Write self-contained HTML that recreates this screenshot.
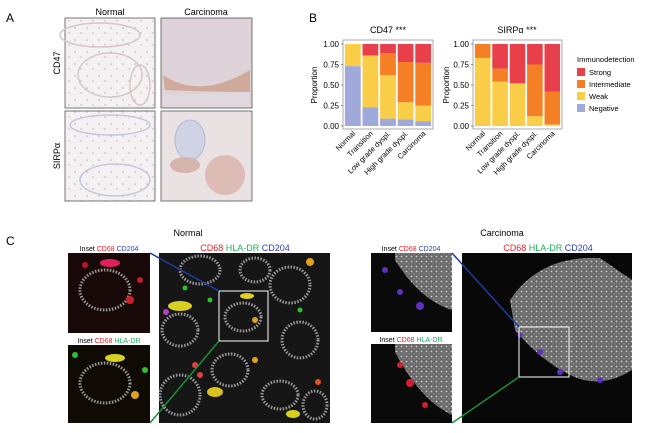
<!DOCTYPE html>
<html><head><meta charset="utf-8"><style>
body{margin:0;background:#fff;}
svg{display:block;font-family:"Liberation Sans",sans-serif;}
</style></head><body>
<svg id="s" width="650" height="433" viewBox="0 0 650 433" xmlns="http://www.w3.org/2000/svg">
<defs>
<pattern id="ihc" width="12" height="12" patternUnits="userSpaceOnUse">
<rect width="12" height="12" fill="#f4f1f2"/><circle cx="3" cy="4" r="0.8" fill="#b9aab8"/><circle cx="9" cy="9" r="0.7" fill="#c9a9a0"/></pattern>
<pattern id="dots2" width="5" height="5" patternUnits="userSpaceOnUse">
<rect width="5" height="5" fill="#6a6a6a"/><circle cx="1.5" cy="1.5" r="0.9" fill="#cfcfcf"/><circle cx="4" cy="3.8" r="0.7" fill="#999"/></pattern>
</defs>
<text x="6" y="22" font-size="12">A</text>
<text x="309" y="22" font-size="12">B</text>
<text x="6" y="245" font-size="12">C</text>
<text x="110" y="15" font-size="9" text-anchor="middle">Normal</text>
<text x="206" y="15" font-size="9" text-anchor="middle">Carcinoma</text>
<text transform="translate(60,63) rotate(-90)" font-size="9" text-anchor="middle">CD47</text>
<text transform="translate(60,156) rotate(-90)" font-size="9" text-anchor="middle">SIRPα</text>
<g stroke="#555" stroke-width="0.8">
<rect x="65" y="18" width="90" height="90" fill="url(#ihc)"/>
<rect x="161" y="18" width="91" height="90" fill="#ddd3d8"/>
<rect x="65" y="111" width="90" height="90" fill="url(#ihc)"/>
<rect x="161" y="111" width="91" height="90" fill="#e9e1e2"/>
</g>
<g fill="none" stroke="#d6c6c8" stroke-width="1.5">
<ellipse cx="110" cy="75" rx="32" ry="22"/><ellipse cx="100" cy="35" rx="40" ry="12"/><ellipse cx="140" cy="85" rx="10" ry="20"/>
<ellipse cx="110" cy="125" rx="40" ry="10" stroke="#c4c6dc"/><ellipse cx="115" cy="180" rx="35" ry="16" stroke="#c4c6dc"/>
</g>
<path d="M163 75 Q200 100 250 70 L250 92 Q210 92 165 90 Z" fill="#cfaa9a"/>
<path d="M163 95 L250 92 L250 107 L163 107Z" fill="#e0d8dc"/>
<ellipse cx="190" cy="140" rx="15" ry="20" fill="#d0d3e4" stroke="#b4b8d6"/>
<ellipse cx="225" cy="175" rx="20" ry="20" fill="#dcbcb4"/>
<ellipse cx="185" cy="165" rx="15" ry="8" fill="#d4b4ac"/>
<g id="bars"></g>
<text x="388" y="33" font-size="9" text-anchor="middle">CD47 ***</text>
<text x="517" y="33" font-size="9" text-anchor="middle">SIRPα ***</text>
<text transform="translate(317,85) rotate(-90)" font-size="8" text-anchor="middle">Proportion</text>
<text transform="translate(449,85) rotate(-90)" font-size="8" text-anchor="middle">Proportion</text>
<text x="577" y="62" font-size="7.5">Immunodetection</text>
<rect x="577" y="68" width="8" height="8" fill="#e8404a"/><text x="589" y="75" font-size="7.5">Strong</text>
<rect x="577" y="80" width="8" height="8" fill="#f47f24"/><text x="589" y="87" font-size="7.5">Intermediate</text>
<rect x="577" y="92" width="8" height="8" fill="#f9cd47"/><text x="589" y="99" font-size="7.5">Weak</text>
<rect x="577" y="104" width="8" height="8" fill="#9fa9da"/><text x="589" y="111" font-size="7.5">Negative</text>

<text x="188" y="236" font-size="9" text-anchor="middle">Normal</text>
<text x="502" y="236" font-size="9" text-anchor="middle">Carcinoma</text>
<text x="245" y="251" font-size="9" text-anchor="middle"><tspan fill="#e8202a">CD68</tspan>  <tspan fill="#1fae5a">HLA-DR</tspan>  <tspan fill="#2b3fa5">CD204</tspan></text>
<text x="548" y="251" font-size="9" text-anchor="middle"><tspan fill="#e8202a">CD68</tspan>  <tspan fill="#1fae5a">HLA-DR</tspan>  <tspan fill="#2b3fa5">CD204</tspan></text>
<text x="109" y="251" font-size="7" text-anchor="middle">Inset <tspan fill="#e8202a">CD68</tspan> <tspan fill="#2b3fa5">CD204</tspan></text>
<text x="109" y="343" font-size="7" text-anchor="middle">Inset <tspan fill="#e8202a">CD68</tspan> <tspan fill="#1fae5a">HLA-DR</tspan></text>
<text x="411" y="251" font-size="7" text-anchor="middle">Inset <tspan fill="#e8202a">CD68</tspan> <tspan fill="#2b3fa5">CD204</tspan></text>
<text x="411" y="342" font-size="7" text-anchor="middle">Inset <tspan fill="#e8202a">CD68</tspan> <tspan fill="#1fae5a">HLA-DR</tspan></text>

<rect x="68" y="253" width="82" height="80" fill="#180808"/>
<rect x="68" y="345" width="82" height="78" fill="#100a04"/>
<rect x="159" y="253" width="171" height="170" fill="#161616"/>
<g fill="none" stroke="#9a9a9a" stroke-width="3" stroke-dasharray="1.5 1.5">
<ellipse cx="105" cy="290" rx="25" ry="20"/><ellipse cx="105" cy="383" rx="25" ry="20"/>
<ellipse cx="200" cy="270" rx="20" ry="14"/><ellipse cx="243" cy="317" rx="18" ry="14"/><ellipse cx="290" cy="285" rx="20" ry="18"/>
<ellipse cx="180" cy="330" rx="18" ry="16"/><ellipse cx="300" cy="340" rx="18" ry="18"/><ellipse cx="230" cy="370" rx="18" ry="16"/>
<ellipse cx="180" cy="395" rx="20" ry="20"/><ellipse cx="280" cy="395" rx="18" ry="14"/><ellipse cx="255" cy="270" rx="15" ry="12"/><ellipse cx="315" cy="405" rx="12" ry="14"/>
</g>
<g>
<ellipse cx="110" cy="263" rx="10" ry="4" fill="#e0205a"/><circle cx="130" cy="300" r="4" fill="#d0202a"/><circle cx="140" cy="280" r="3" fill="#c0202a"/><circle cx="85" cy="265" r="3" fill="#c01030"/>
<ellipse cx="115" cy="358" rx="10" ry="4" fill="#d8d020"/><circle cx="135" cy="395" r="4" fill="#e0a020"/><circle cx="75" cy="355" r="3" fill="#30c030"/><circle cx="145" cy="370" r="3" fill="#30c030"/>
<ellipse cx="180" cy="306" rx="12" ry="5" fill="#d8d020"/><circle cx="166" cy="312" r="3" fill="#b040c0"/><ellipse cx="247" cy="296" rx="7" ry="3" fill="#e0d020"/><circle cx="255" cy="320" r="3" fill="#e0a020"/>
<ellipse cx="215" cy="392" rx="8" ry="5" fill="#d8c020"/><circle cx="195" cy="365" r="3" fill="#e04040"/><circle cx="200" cy="375" r="3" fill="#e04040"/><circle cx="310" cy="262" r="4" fill="#e0a020"/>
<circle cx="255" cy="360" r="3" fill="#e0a020"/><ellipse cx="293" cy="414" rx="7" ry="4" fill="#d8d020"/><circle cx="318" cy="382" r="3" fill="#e05020"/><circle cx="185" cy="288" r="2.5" fill="#30c030"/><circle cx="210" cy="300" r="2.5" fill="#30c030"/><circle cx="300" cy="310" r="2.5" fill="#30c030"/>
</g>
<rect x="219" y="291" width="49" height="50" fill="none" stroke="#fff" stroke-width="1"/>
<line x1="150" y1="253" x2="219" y2="291" stroke="#1f3aa0" stroke-width="1.5"/>
<line x1="150" y1="423" x2="219" y2="341" stroke="#1d8f35" stroke-width="1.5"/>

<rect x="371" y="253" width="81" height="79" fill="#0a0a0a"/>
<path d="M395 253 L452 253 L452 310 Q420 300 395 260Z" fill="url(#dots2)"/>
<rect x="371" y="344" width="81" height="79" fill="#0a0a0a"/>
<path d="M395 344 L452 344 L452 415 Q420 400 395 352Z" fill="url(#dots2)"/>
<rect x="462" y="253" width="170" height="170" fill="#080808"/>
<path d="M510 300 Q540 255 600 258 L632 280 L632 370 Q600 390 570 375 Q540 360 515 330Z" fill="url(#dots2)"/>
<g fill="#6030c0"><circle cx="385" cy="270" r="3"/><circle cx="400" cy="292" r="3"/><circle cx="420" cy="306" r="4"/><circle cx="520" cy="335" r="2.5"/><circle cx="540" cy="352" r="3"/><circle cx="560" cy="372" r="3"/><circle cx="600" cy="380" r="3"/></g>
<g fill="#d02030"><circle cx="410" cy="383" r="4"/><circle cx="425" cy="405" r="3"/><circle cx="400" cy="365" r="3"/></g>
<rect x="519" y="327" width="50" height="50" fill="none" stroke="#fff" stroke-width="1"/>
<line x1="452" y1="253" x2="519" y2="327" stroke="#1f3aa0" stroke-width="1.5"/>
<line x1="452" y1="423" x2="519" y2="377" stroke="#1d8f35" stroke-width="1.5"/>
</svg>
<script>
var C={s:"#e8404a",i:"#f47f24",w:"#f9cd47",n:"#9fa9da"};
var names=["Normal","Transition","Low grade dyspl.","High grade dyspl.","Carcinoma"];
var cd=[[["n",.73],["w",1]],[["n",.23],["w",.86],["s",1]],[["n",.09],["w",.62],["i",.89],["s",1]],[["n",.08],["w",.29],["i",.78],["s",1]],[["n",.06],["w",.25],["i",.77],["s",1]]];
var si=[[["w",.83],["i",1]],[["w",.54],["i",.70],["s",1]],[["w",.52],["s",1]],[["w",.12],["i",.75],["s",1]],[["w",.02],["i",.42],["s",1]]];
var h="";
function Y(v){return 126-82*v;}
function panel(x0,w,d){
 h+='<rect x="'+x0+'" y="40" width="'+w+'" height="89" fill="#fff" stroke="#888" stroke-width="0.7"/>';
 var p=(w-2)/5,bw=p-1.8;
 d.forEach(function(b,k){var lo=0,x=x0+1+k*p+0.9;b.forEach(function(s){h+='<rect x="'+x+'" y="'+Y(s[1])+'" width="'+bw+'" height="'+(Y(lo)-Y(s[1]))+'" fill="'+C[s[0]]+'"/>';lo=s[1];});
 var cx=x+bw/2;h+='<text transform="translate('+(cx+3)+',134) rotate(-45)" font-size="7.5" text-anchor="end">'+names[k]+'</text>';});
 [0,.25,.5,.75,1].forEach(function(v){h+='<text x="'+(x0-4)+'" y="'+(Y(v)+2.8)+'" font-size="8" text-anchor="end">'+v.toFixed(2)+'</text><line x1="'+(x0-2)+'" x2="'+x0+'" y1="'+Y(v)+'" y2="'+Y(v)+'" stroke="#444" stroke-width="0.6"/>';});
}
panel(343,90,cd);panel(473,89,si);
document.getElementById("bars").innerHTML=h;
</script>
</body></html>
